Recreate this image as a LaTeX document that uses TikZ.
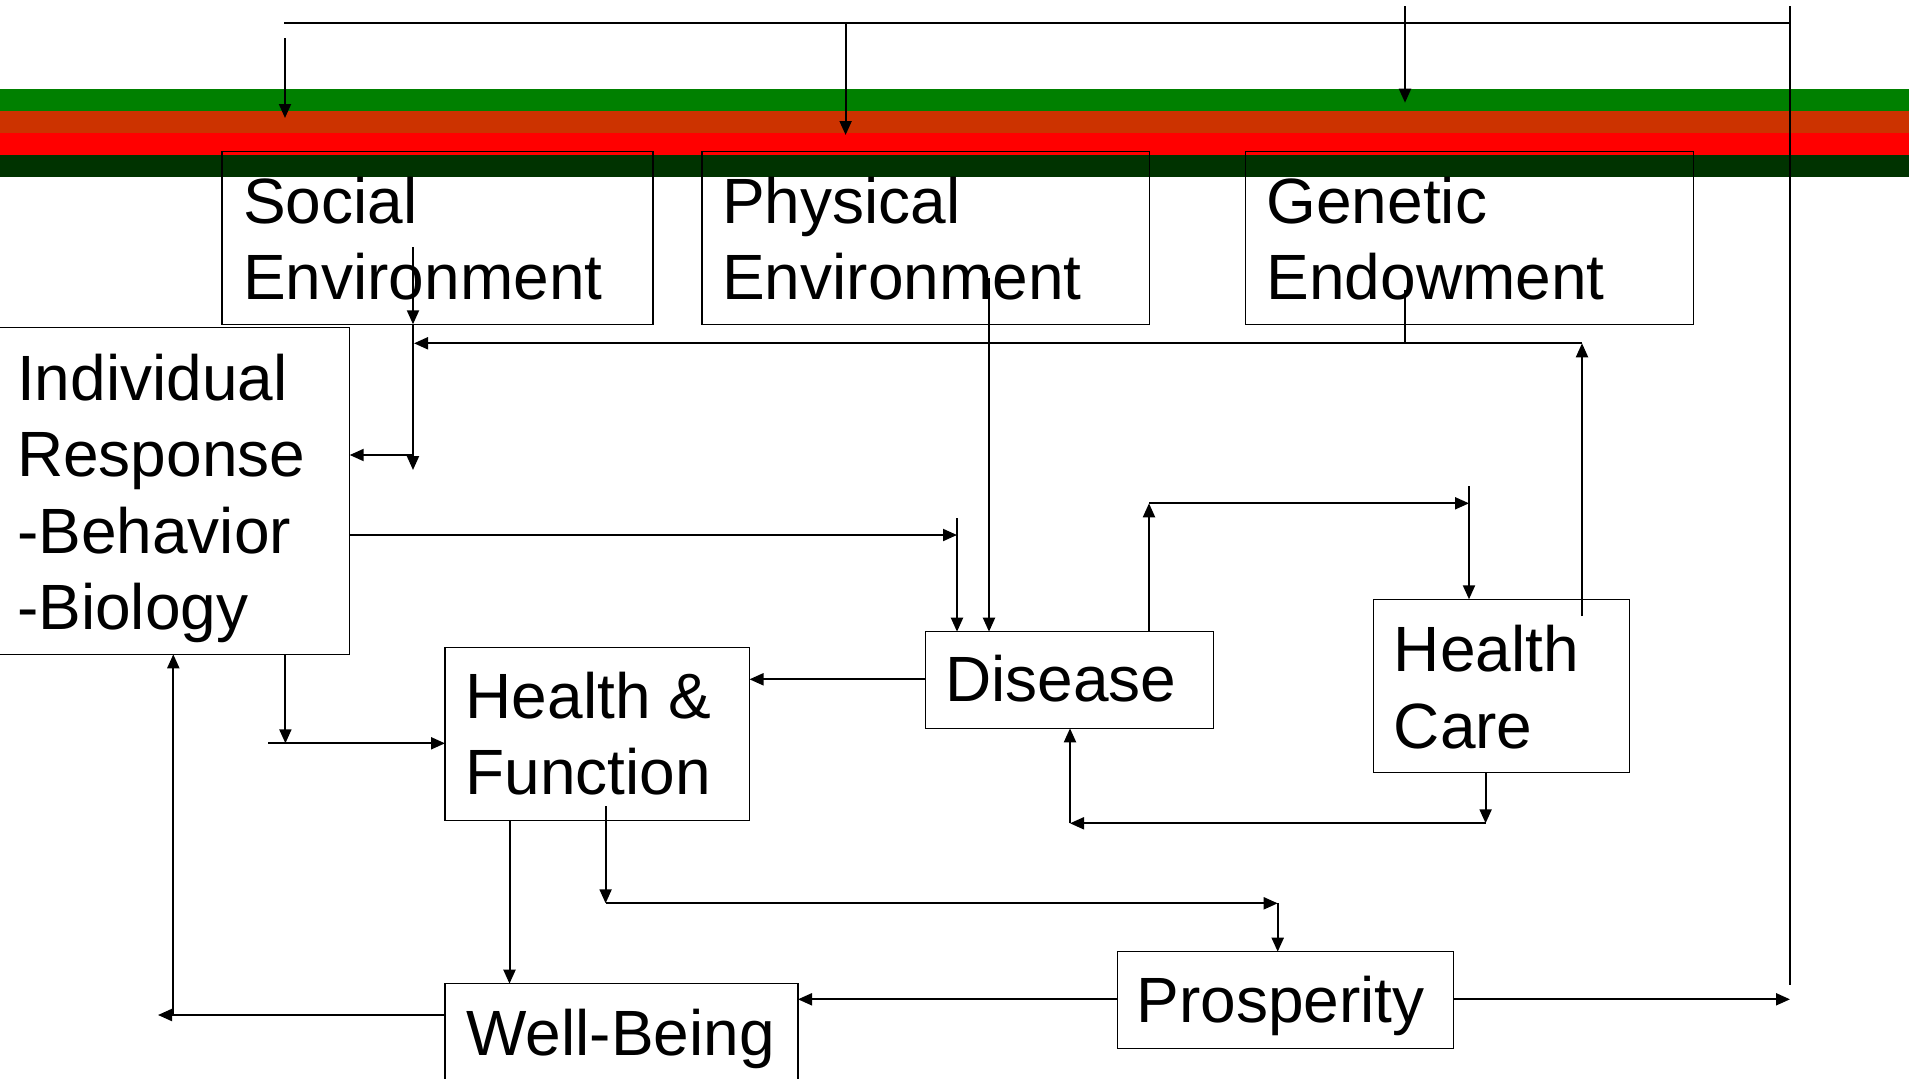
\documentclass[tikz,border=0pt]{standalone}
\usepackage{fontspec}
\setmainfont{Liberation Sans}
\usetikzlibrary{arrows.meta,calc}
\definecolor{bandA}{HTML}{008000}
\definecolor{bandB}{HTML}{CC3300}
\definecolor{bandC}{HTML}{FF0000}
\definecolor{bandD}{HTML}{003300}
\begin{document}
\begin{tikzpicture}[x=1pt,y=-1pt,
  box/.style={draw=black, line width=1.2pt, rectangle, inner sep=0pt, outer sep=0pt, anchor=north west},
  lbl/.style={anchor=base west, inner sep=0pt, font=\fontsize{64}{76.5}\selectfont},
  ln/.style={line width=2pt},
  arr/.style={line width=2pt, -{Triangle[length=14pt,width=12pt]}}]
\useasboundingbox (0,0) rectangle (1909,1079);
% coloured bands
\fill[bandA] (0,89.3) rectangle (1909,110.7);
\fill[bandB] (0,110.7) rectangle (1909,132.7);
\fill[bandC] (0,132.7) rectangle (1909,155);
\fill[bandD] (0,155) rectangle (1909,176.7);
% boxes
\node[box, minimum width=431, minimum height=172.6] (soc) at (222,151.7) {};
\node[box, minimum width=447.4, minimum height=172.6] (phy) at (702,151.7) {};
\node[box, minimum width=448.3, minimum height=172.6] (gen) at (1245.4,151.7) {};
\node[box, minimum width=351.7, minimum height=327] (ind) at (-2,327.3) {};
\node[box, minimum width=304.5, minimum height=173.4] (hf) at (445,647.3) {};
\node[box, minimum width=287.7, minimum height=96.6] (dis) at (925.7,631.7) {};
\node[box, minimum width=256.1, minimum height=173.4] (hc) at (1373.6,599.3) {};
\node[box, minimum width=353, minimum height=110] (wb) at (445,983.7) {};
\node[box, minimum width=335.9, minimum height=96.6] (pro) at (1117.5,951.7) {};
% labels
\node[lbl] (soct) at ($(soc.north west)+(21,71.5)$) {\vtop{\hbox{Social}\hbox{Environment}}};
\node[lbl] (phyt) at ($(phy.north west)+(20,71.5)$) {\vtop{\hbox{Physical}\hbox{Environment}}};
\node[lbl] (gent) at ($(gen.north west)+(21,71.5)$) {\vtop{\hbox{Genetic}\hbox{Endowment}}};
\node[lbl] (indt) at (17,400) {\vtop{\hbox{Individual}\hbox{Response}\hbox{-Behavior}\hbox{-Biology}}};
\node[lbl] (hft) at ($(hf.north west)+(20.5,71)$) {\vtop{\hbox{Health \&}\hbox{Function}}};
\node[lbl] (dist) at ($(dis.north west)+(19.3,70)$) {Disease};
\node[lbl] (hct) at ($(hc.north west)+(20,72.4)$) {\vtop{\hbox{Health}\hbox{Care}}};
\node[lbl] (wbt) at ($(wb.north west)+(21.5,71.3)$) {Well-Being};
\node[lbl] (prot) at ($(pro.north west)+(19,71)$) {Prosperity};
% free ends and guides
\coordinate (tl) at (284,23.3);
\coordinate (rtop) at (1790,6);
\coordinate (rbot) at (1790,985);
\coordinate (sA) at (285,38); \coordinate (sB) at (285,118);
\coordinate (pA) at (845.6,23.3); \coordinate (pB) at (845.6,135);
\coordinate (gA) at (1405,6); \coordinate (gB) at (1405,102.7);
\coordinate (siA) at (413,247); \coordinate (siB) at (413,470); \coordinate (siC) at (413,455);
\coordinate (giA) at (1405,290); \coordinate (giB) at (1405,343.3);
\coordinate (fbR) at (1582,343.3); \coordinate (fbL) at (414,343.3); \coordinate (hcU) at (1582,616);
\coordinate (piA) at (989,278);
\coordinate (bhR) at (957,535); \coordinate (bhT) at (957,518);
\coordinate (dU) at (1149,503.3); \coordinate (hcA) at (1469,503.3); \coordinate (hcT) at (1469,486);
\coordinate (yDH) at (0,679.3);
\coordinate (idB) at (285.4,743.3); \coordinate (idL) at (268,743.3);
\coordinate (iuB) at (173.3,1015); \coordinate (wbL) at (158,1015);
\coordinate (xWB) at (509.5,0);
\coordinate (hfpA) at (605.6,806); \coordinate (hfpB) at (605.6,903.3); \coordinate (hfpC) at (1277.7,903.3);
\coordinate (yPW) at (0,999.3); \coordinate (pR) at (1790,999.3);
\coordinate (hcD) at (1485.6,823.3); \coordinate (dB) at (1070,823.3);
% connectors
\draw[ln] (tl) -- (rtop |- tl);
\draw[ln] (rtop) -- (rbot);
\draw[arr] (sA) -- (sB);
\draw[arr] (pA) -- (pB);
\draw[arr] (gA) -- (gB);
\draw[arr] (siA) -- (soc.south -| siA);
\draw[arr] (soc.south -| siA) -- (siB);
\draw[arr] (siC) -- (ind.east |- siC);
\draw[ln] (giA) -- (giB);
\draw[arr] (fbR) -- (fbL);
\draw[arr] (hcU) -- (fbR);
\draw[arr] (piA) -- (dis.north -| piA);
\draw[arr] (ind.east |- bhR) -- (bhR);
\draw[arr] (bhT) -- (dis.north -| bhT);
\draw[arr] (dis.north -| dU) -- (dU);
\draw[arr] (dU) -- (hcA);
\draw[arr] (hcT) -- (hc.north -| hcT);
\draw[arr] (dis.west |- yDH) -- (hf.east |- yDH);
\draw[arr] (ind.south -| idB) -- (idB);
\draw[arr] (idL) -- (hf.west |- idL);
\draw[arr] (iuB) -- (ind.south -| iuB);
\draw[arr] (wb.west |- wbL) -- (wbL);
\draw[arr] (hf.south -| xWB) -- (wb.north -| xWB);
\draw[arr] (hfpA) -- (hfpB);
\draw[arr] (hfpB) -- (hfpC);
\draw[arr] (hfpC) -- (pro.north -| hfpC);
\draw[arr] (pro.west |- yPW) -- (wb.east |- yPW);
\draw[arr] (pro.east |- yPW) -- (pR);
\draw[arr] (hc.south -| hcD) -- (hcD);
\draw[arr] (hcD) -- (dB);
\draw[arr] (dB) -- (dis.south -| dB);
\end{tikzpicture}
\end{document}
